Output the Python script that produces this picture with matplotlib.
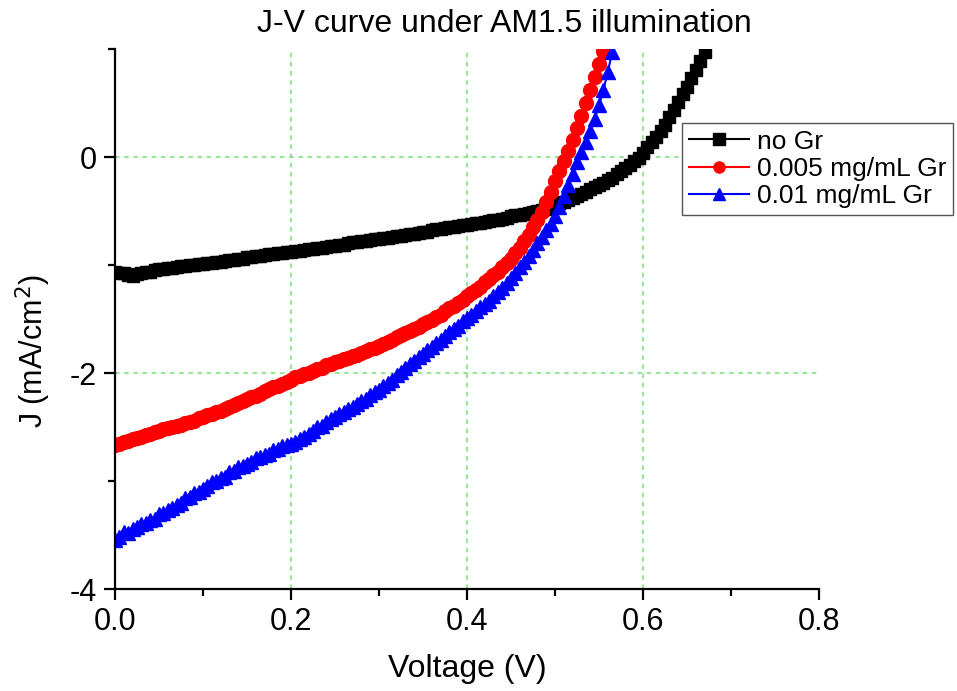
import numpy as np
import matplotlib
matplotlib.use('Agg')
import matplotlib.pyplot as plt
from matplotlib.ticker import MultipleLocator

plt.rcParams['font.family'] = ['Liberation Sans', 'DejaVu Sans']
plt.rcParams['axes.unicode_minus'] = False

# voltage sweep step of the J-V measurement (V)
step = 0.005

# current density (mA/cm^2), one value per sweep point starting at 0 V
j_no_gr = [
    -1.06, -1.07, -1.07, -1.09, -1.10, -1.08, -1.07, -1.06, -1.06, -1.05,
    -1.04, -1.04, -1.03, -1.03, -1.02, -1.01, -1.01, -1.00, -1.00, -0.99,
    -0.99, -0.98, -0.98, -0.97, -0.97, -0.96, -0.95, -0.95, -0.94, -0.94,
    -0.93, -0.93, -0.92, -0.92, -0.91, -0.90, -0.90, -0.89, -0.89, -0.88,
    -0.88, -0.87, -0.87, -0.86, -0.85, -0.85, -0.84, -0.84, -0.83, -0.82,
    -0.82, -0.81, -0.81, -0.80, -0.79, -0.79, -0.78, -0.78, -0.77, -0.76,
    -0.76, -0.75, -0.75, -0.74, -0.73, -0.73, -0.72, -0.71, -0.71, -0.70,
    -0.69, -0.69, -0.68, -0.67, -0.67, -0.66, -0.65, -0.65, -0.64, -0.63,
    -0.63, -0.62, -0.61, -0.61, -0.60, -0.59, -0.58, -0.58, -0.57, -0.56,
    -0.55, -0.54, -0.54, -0.53, -0.52, -0.51, -0.50, -0.49, -0.48, -0.47,
    -0.45, -0.43, -0.42, -0.40, -0.38, -0.36, -0.34, -0.32, -0.30, -0.28,
    -0.26, -0.24, -0.21, -0.19, -0.16, -0.13, -0.10, -0.07, -0.04, -0.01,
    0.04, 0.09, 0.14, 0.19, 0.24, 0.30, 0.37, 0.44, 0.51, 0.58,
    0.65, 0.73, 0.81, 0.89, 0.97,
]

j_005 = [
    -2.67, -2.66, -2.64, -2.63, -2.61, -2.60, -2.59, -2.57, -2.56, -2.55,
    -2.54, -2.52, -2.51, -2.50, -2.49, -2.48, -2.46, -2.45, -2.44, -2.42,
    -2.41, -2.39, -2.38, -2.36, -2.35, -2.33, -2.31, -2.30, -2.28, -2.26,
    -2.24, -2.22, -2.21, -2.19, -2.17, -2.15, -2.13, -2.12, -2.10, -2.08,
    -2.06, -2.04, -2.03, -2.01, -2.00, -1.98, -1.96, -1.95, -1.93, -1.92,
    -1.90, -1.89, -1.87, -1.86, -1.84, -1.83, -1.81, -1.80, -1.78, -1.77,
    -1.75, -1.73, -1.71, -1.69, -1.67, -1.65, -1.63, -1.61, -1.59, -1.57,
    -1.55, -1.53, -1.51, -1.48, -1.46, -1.43, -1.40, -1.38, -1.35, -1.32,
    -1.29, -1.26, -1.23, -1.20, -1.16, -1.13, -1.09, -1.06, -1.02, -0.98,
    -0.94, -0.89, -0.84, -0.78, -0.72, -0.65, -0.58, -0.51, -0.42, -0.32,
    -0.22, -0.13, -0.04, 0.06, 0.16, 0.27, 0.38, 0.50, 0.62, 0.74,
    0.86, 0.98,
]

j_001 = [
    -3.55, -3.52, -3.47, -3.48, -3.44, -3.43, -3.40, -3.39, -3.36, -3.35,
    -3.31, -3.30, -3.27, -3.25, -3.22, -3.20, -3.16, -3.15, -3.11, -3.10,
    -3.07, -3.05, -3.01, -3.00, -2.97, -2.96, -2.92, -2.91, -2.87, -2.86,
    -2.84, -2.82, -2.79, -2.78, -2.76, -2.75, -2.71, -2.70, -2.68, -2.67,
    -2.66, -2.64, -2.61, -2.59, -2.56, -2.54, -2.50, -2.49, -2.45, -2.43,
    -2.41, -2.38, -2.36, -2.33, -2.31, -2.29, -2.26, -2.24, -2.20, -2.18,
    -2.16, -2.12, -2.09, -2.06, -2.02, -1.99, -1.95, -1.92, -1.89, -1.85,
    -1.82, -1.79, -1.76, -1.72, -1.69, -1.66, -1.62, -1.59, -1.56, -1.52,
    -1.49, -1.46, -1.43, -1.39, -1.36, -1.33, -1.29, -1.25, -1.21, -1.17,
    -1.12, -1.07, -1.02, -0.97, -0.92, -0.86, -0.80, -0.74, -0.68, -0.62,
    -0.55, -0.46, -0.36, -0.26, -0.16, -0.05, 0.05, 0.14, 0.24, 0.35,
    0.48, 0.62, 0.79, 0.97,
]

v_no_gr = np.arange(len(j_no_gr)) * step
v_005 = np.arange(len(j_005)) * step
v_001 = np.arange(len(j_001)) * step

fig = plt.figure(figsize=(9.57, 6.91), dpi=100)
ax = fig.add_axes([0.1202, 0.1476, 0.7356, 0.7814])

# dashed green grid on the inner major ticks only
for xv in [0.2, 0.4, 0.6]:
    ax.axvline(xv, color='#77e077', lw=1.1, ls=(0, (3, 3)), zorder=0)
for yv in [0, -2]:
    ax.axhline(yv, color='#77e077', lw=1.1, ls=(0, (3, 3)), zorder=0)

ax.plot(v_no_gr, j_no_gr, color='black', marker='s', ms=9, lw=1.5,
        label='no Gr')
ax.plot(v_005, j_005, color='red', marker='o', ms=10, lw=1.5,
        label='0.005 mg/mL Gr')
ax.plot(v_001, j_001, color='blue', marker='^', ms=10.5, lw=1.5,
        label='0.01 mg/mL Gr')

ax.set_xlim(0, 0.8)
ax.set_ylim(-4, 1)
ax.xaxis.set_major_locator(MultipleLocator(0.2))
ax.xaxis.set_minor_locator(MultipleLocator(0.1))
ax.yaxis.set_major_locator(MultipleLocator(2))
ax.yaxis.set_minor_locator(MultipleLocator(1))
ax.xaxis.set_major_formatter(plt.FormatStrFormatter('%.1f'))
ax.yaxis.set_major_formatter(plt.FormatStrFormatter('%d'))

for side in ['top', 'right']:
    ax.spines[side].set_visible(False)
for side in ['left', 'bottom']:
    ax.spines[side].set_linewidth(1.6)

ax.tick_params(which='major', direction='out', length=8, width=1.6,
               labelsize=22, pad=5)
ax.tick_params(which='minor', direction='out', length=5, width=1.6)

ax.set_xlabel('Voltage (V)', fontsize=23, labelpad=12)
ax.set_ylabel('J (mA/cm$^2$)', fontsize=22)
ax.yaxis.set_label_coords(-0.088, 0.44)
fig.text(0.527, 1 - 24 / 691, 'J-V curve under AM1.5 illumination',
         fontsize=23, ha='center', va='center')

leg = ax.legend(loc='upper left', bbox_to_anchor=(0.7126, 0.822),
                bbox_transform=fig.transFigure, fontsize=19,
                frameon=True, fancybox=False, framealpha=1,
                edgecolor='#555555', handlelength=2.3, handletextpad=0.3,
                borderpad=0.25, labelspacing=0.12, borderaxespad=0)
leg.get_frame().set_linewidth(1.0)
for h in leg.legend_handles:
    h.set_markersize(8)

fig.savefig('out.png', dpi=100)
